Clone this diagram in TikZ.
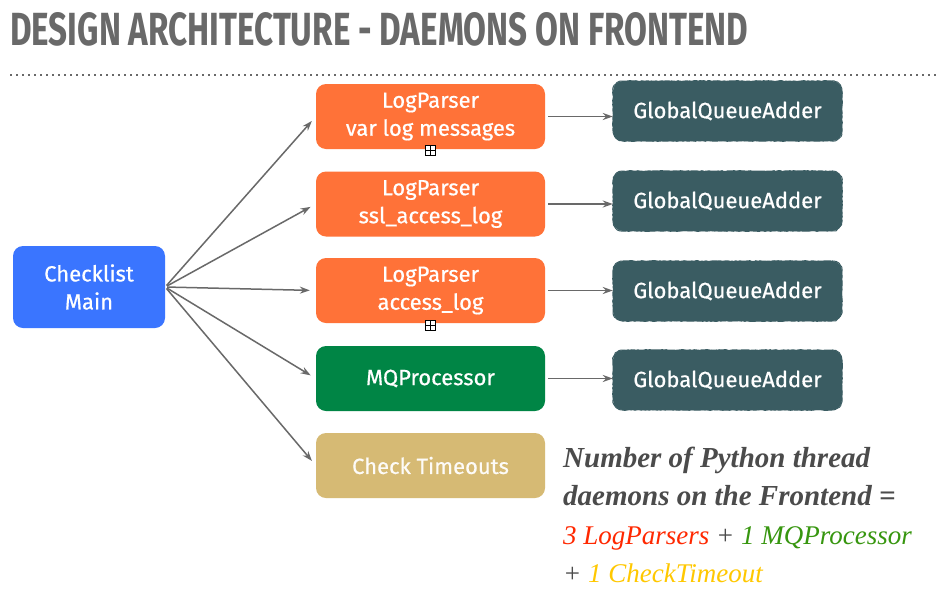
\documentclass[tikz,border=0pt]{standalone}
\usepackage{fontspec}
\usepackage{graphicx}
\setmainfont{Liberation Serif}
\newfontfamily\boxfont{Fira Sans}[UprightFeatures={FakeBold=0.6}]
\newfontfamily\titlefont{Fira Sans}
\usetikzlibrary{arrows.meta, decorations.pathmorphing}
\definecolor{mainblue}{RGB}{58,117,255}
\definecolor{parserorange}{RGB}{255,114,56}
\definecolor{mqgreen}{RGB}{0,133,69}
\definecolor{timeouttan}{RGB}{214,186,116}
\definecolor{queueteal}{RGB}{58,92,98}
\definecolor{titlegray}{RGB}{105,105,105}
\definecolor{arrowgray}{RGB}{105,105,105}
\definecolor{notegray}{RGB}{75,75,75}
\definecolor{notered}{RGB}{255,40,0}
\definecolor{notegreen}{RGB}{55,150,15}
\definecolor{noteyellow}{RGB}{255,200,0}
\tikzset{
  box/.style={rectangle, rounded corners=10pt, text=white, align=center,
    font=\boxfont\fontsize{22}{28}\selectfont, inner sep=0pt},
  mainbox/.style={box, fill=mainblue, minimum width=152pt, minimum height=82pt},
  parserbox/.style={box, fill=parserorange, minimum width=229pt, minimum height=65pt},
  mqbox/.style={box, fill=mqgreen, minimum width=229pt, minimum height=65pt},
  timeoutbox/.style={box, fill=timeouttan, text=white!95!timeouttan,
    minimum width=229pt, minimum height=65pt},
  queuebox/.style={box, fill=queueteal, minimum width=229pt, minimum height=60pt,
    postaction={draw=queueteal, line width=1pt, sharp corners, decorate,
      decoration={random steps, segment length=2pt, amplitude=0.4pt}}},
  arrow/.style={-{Stealth[length=10pt,width=7pt]}, line width=1.5pt, color=arrowgray},
  note/.style={anchor=base west, inner sep=0pt, font=\fontsize{27}{38}\selectfont\itshape},
  boldnote/.style={note, font=\fontsize{29}{38}\selectfont\bfseries\itshape},
  marker/.style={draw=black, fill=white, line width=0.9pt, minimum size=10pt, inner sep=0pt,
    path picture={\draw[line width=0.9pt]
      (path picture bounding box.north) -- (path picture bounding box.south)
      (path picture bounding box.west) -- (path picture bounding box.east);}}
}

\begin{document}
\begin{tikzpicture}[x=1pt, y=-1pt]
  \useasboundingbox[fill=white] (0,0) rectangle (946,598);

  % Title and dotted rule
  \node[anchor=north west, inner sep=0pt, text=titlegray] (title) at (10,12)
    {\resizebox{738pt}{33pt}{\titlefont\bfseries DESIGN ARCHITECTURE - DAEMONS ON FRONTEND}};
  \draw[titlegray, line width=1.5pt, dash pattern=on 1.5pt off 4.5pt] (10,75) -- (940,75);

  % Main thread
  \node[mainbox] (main) at (89,287) {Checklist\\Main};

  % Daemons
  \node[parserbox] (lp1) at (430.5,116.5) {LogParser\\var log messages};
  \node[parserbox] (lp2) at (430.5,204) {LogParser\\ssl\_access\_log};
  \node[parserbox] (lp3) at (430.5,290.5) {LogParser\\access\_log};
  \node[mqbox] (mq) at (430.5,378.5) {MQProcessor};
  \node[timeoutbox] (ct) at (430.5,465.5) {Check Timeouts};

  % Queue adders
  \node[queuebox] (gq1) at (727.5,111) {GlobalQueueAdder};
  \node[queuebox] (gq2) at (727.5,201) {GlobalQueueAdder};
  \node[queuebox] (gq3) at (727.5,291) {GlobalQueueAdder};
  \node[queuebox] (gq4) at (727.5,380) {GlobalQueueAdder};

  % Small markers under two parsers
  \node[marker] (mk1) at (430,150) {};
  \node[marker] (mk2) at (430,325) {};

  % Fan out from main
  \foreach \d in {lp1, lp2, lp3, mq, ct}
    \draw[arrow, shorten >=6pt, shorten <=2pt] (main.east) -- (\d.west);

  % Parser to queue adder
  \draw[arrow, shorten <=3pt] (lp1.east) -- (lp1.east -| gq1.west);
  \draw[arrow, shorten <=3pt] (lp2.east) -- (lp2.east -| gq2.west);
  \draw[arrow, shorten <=3pt] (lp3.east) -- (lp3.east -| gq3.west);
  \draw[arrow, shorten <=3pt] (mq.east) -- (mq.east -| gq4.west);

  % Note
  \node[boldnote, text=notegray] (txt1) at (563,467) {Number of Python thread};
  \node[boldnote, text=notegray] (txt2) at (563,505) {daemons on the Frontend =};
  \node[note, text=notegray] (txt3) at (563,544)
    {\textcolor{notered}{3 LogParsers} + \textcolor{notegreen}{1 MQProcessor}};
  \node[note, text=notegray] (txt4) at (563,582)
    {+ \textcolor{noteyellow}{1 CheckTimeout}};
\end{tikzpicture}
\end{document}
